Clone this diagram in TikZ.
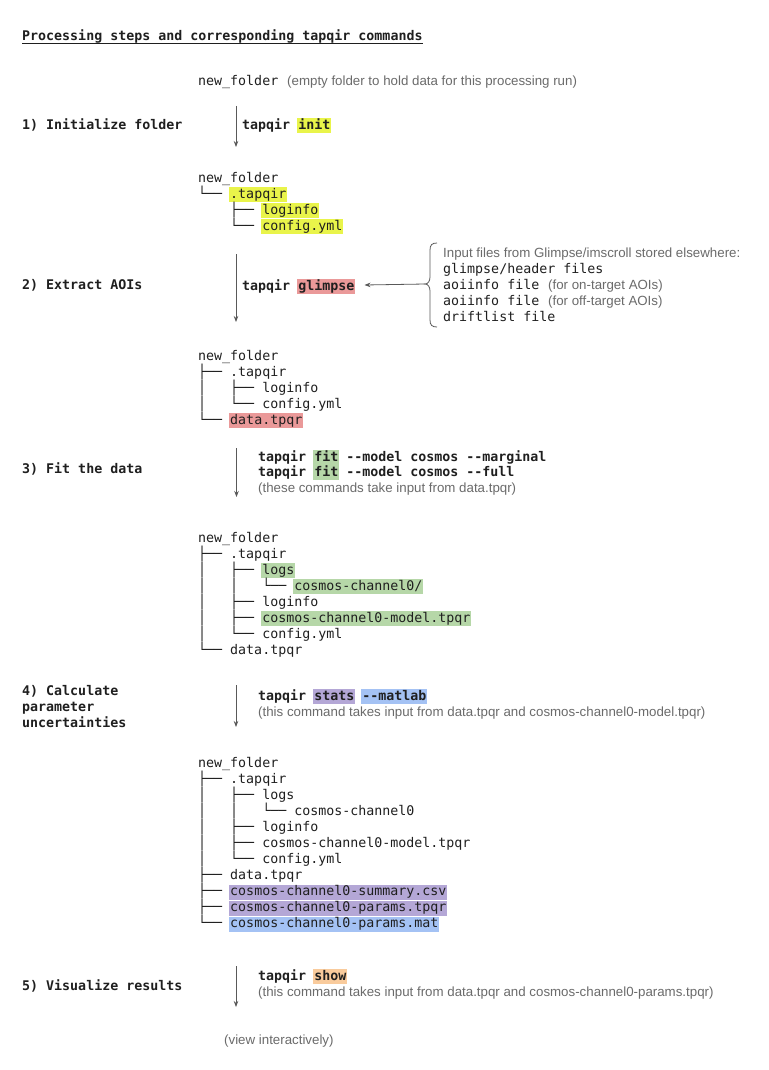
\documentclass[tikz,border=0pt]{standalone}
\usepackage{fontspec}
\setmainfont{Liberation Sans}
\setmonofont{DejaVu Sans Mono}
\usetikzlibrary{arrows.meta}

\definecolor{ink}{HTML}{1F1F1F}
\definecolor{notegray}{HTML}{6B6B6B}
\definecolor{conn}{HTML}{595959}
\definecolor{hlyellow}{HTML}{E9F44A}
\definecolor{hlred}{HTML}{EA9999}
\definecolor{hlgreen}{HTML}{B6D7A8}
\definecolor{hlpurple}{HTML}{B4A7D6}
\definecolor{hlblue}{HTML}{A4C2F4}
\definecolor{hlorange}{HTML}{F9CB9C}

% highlighted word, about one line tall
\newcommand\hlbox[2]{\kern-1pt\relax{\setlength{\fboxsep}{0pt}\colorbox{#1}{\rule[-4pt]{0pt}{15pt}\kern1pt\relax#2\kern1pt\relax}}\kern-1pt\relax}
% tree drawing prefixes
\newcommand\trT{├──\ }
\newcommand\trL{└──\ }
\newcommand\trV{│\ \ \ }
\newcommand\trS{\ \ \ \ }

\tikzset{
  code/.style={anchor=west, inner sep=0pt, text=ink,
    font=\ttfamily\fontsize{13.3}{16}\selectfont, text height=13pt, text depth=3pt},
  cmd/.style={code, font=\ttfamily\bfseries\fontsize{13.3}{16}\selectfont},
  note/.style={anchor=west, inner sep=0pt, text=notegray,
    font=\fontsize{13.3}{16}\selectfont, text height=13pt, text depth=3pt},
  flow/.style={draw=conn, line width=0.8pt, -{Stealth[length=6pt,width=4.5pt]}},
}

\begin{document}
\begin{tikzpicture}[x=1pt,y=-1pt]
\useasboundingbox[fill=white] (0,0) rectangle (768,1070);

% title
\node[cmd] (title) at (22,36) {Processing steps and corresponding tapqir commands};
\draw[ink, line width=0.9pt] ([yshift=-2.5pt]title.base west) -- ([yshift=-2.5pt]title.base east);

% starting folder
\node[code] (r0) at (198,81) {new\_folder};
\node[note] (r0n) at (287,81) {(empty folder to hold data for this processing run)};

% step 1
\node[cmd] (s1) at (22,124) {1) Initialize folder};
\node[cmd] (c1) at (242,124) {tapqir \hlbox{hlyellow}{init}};
\coordinate (a1s) at (236,106);
\coordinate (a1e) at (236,147);
\draw[flow] (a1s) -- (a1e);

\node[code] (t1a) at (198,177) {new\_folder};
\node[code] (t1b) at (198,193) {\trL\hlbox{hlyellow}{.tapqir}};
\node[code] (t1c) at (198,209) {\trS\trT\hlbox{hlyellow}{loginfo}};
\node[code] (t1d) at (198,225) {\trS\trL\hlbox{hlyellow}{config.yml}};

% step 2
\node[cmd] (s2) at (22,284) {2) Extract AOIs};
\node[cmd] (c2) at (242,285) {tapqir \hlbox{hlred}{glimpse}};
\coordinate (a2s) at (236,254);
\coordinate (a2e) at (236,322);
\draw[flow] (a2s) -- (a2e);

\node[note] (in0) at (443,252) {Input files from Glimpse/imscroll stored elsewhere:};
\node[code] (in1) at (443,268) {glimpse/header files};
\node[code] (in2) at (443,284) {aoiinfo file};
\node[note] (in2n) at (548,284) {(for on-target AOIs)};
\node[code] (in3) at (443,300) {aoiinfo file};
\node[note] (in3n) at (548,300) {(for off-target AOIs)};
\node[code] (in4) at (443,316) {driftlist file};

% brace gathering the input files
\coordinate (brtip) at (425,284);
\draw[conn, line width=0.8pt] (437,243) .. controls (432,243) and (430,245) .. (430,250)
  -- (430,277) .. controls (430,281) and (428,284) .. (brtip)
  .. controls (428,284) and (430,287) .. (430,291)
  -- (430,320) .. controls (430,325) and (432,327) .. (437,327);
\draw[flow] (brtip) -- ([xshift=10pt]c2.east);

\node[code] (t2a) at (198,355) {new\_folder};
\node[code] (t2b) at (198,371) {\trT.tapqir};
\node[code] (t2c) at (198,387) {\trV\trT loginfo};
\node[code] (t2d) at (198,403) {\trV\trL config.yml};
\node[code] (t2e) at (198,419) {\trL\hlbox{hlred}{data.tpqr}};

% step 3
\node[cmd] (s3) at (22,468) {3) Fit the data};
\node[cmd] (c3a) at (258,456) {tapqir \hlbox{hlgreen}{fit} -{}-model cosmos -{}-marginal};
\node[cmd] (c3b) at (258,471) {tapqir \hlbox{hlgreen}{fit} -{}-model cosmos -{}-full};
\node[note] (c3n) at (258,487) {(these commands take input from data.tpqr)};
\coordinate (a3s) at (236.5,448);
\coordinate (a3e) at (236.5,497);
\draw[flow] (a3s) -- (a3e);

\node[code] (t3a) at (198,537) {new\_folder};
\node[code] (t3b) at (198,553) {\trT.tapqir};
\node[code] (t3c) at (198,569) {\trV\trT\hlbox{hlgreen}{logs}};
\node[code] (t3d) at (198,585) {\trV\trV\trL\hlbox{hlgreen}{cosmos-channel0/}};
\node[code] (t3e) at (198,601) {\trV\trT loginfo};
\node[code] (t3f) at (198,617) {\trV\trT\hlbox{hlgreen}{cosmos-channel0-model.tpqr}};
\node[code] (t3g) at (198,633) {\trV\trL config.yml};
\node[code] (t3h) at (198,649) {\trL data.tpqr};

% step 4
\node[cmd] (s4a) at (22,690) {4) Calculate};
\node[cmd] (s4b) at (22,706) {parameter};
\node[cmd] (s4c) at (22,722) {uncertainties};
\node[cmd] (c4) at (258,695) {tapqir \hlbox{hlpurple}{stats} \hlbox{hlblue}{-{}-matlab}};
\node[note] (c4n) at (258,711.5) {(this command takes input from data.tpqr and cosmos-channel0-model.tpqr)};
\coordinate (a4s) at (236,685);
\coordinate (a4e) at (236,727);
\draw[flow] (a4s) -- (a4e);

\node[code] (t4a) at (198,762.5) {new\_folder};
\node[code] (t4b) at (198,778.5) {\trT.tapqir};
\node[code] (t4c) at (198,794.5) {\trV\trT logs};
\node[code] (t4d) at (198,810.5) {\trV\trV\trL cosmos-channel0};
\node[code] (t4e) at (198,826.5) {\trV\trT loginfo};
\node[code] (t4f) at (198,842.5) {\trV\trT cosmos-channel0-model.tpqr};
\node[code] (t4g) at (198,858.5) {\trV\trL config.yml};
\node[code] (t4h) at (198,874.5) {\trT data.tpqr};
\node[code] (t4i) at (198,890.5) {\trT\hlbox{hlpurple}{cosmos-channel0-summary.csv}};
\node[code] (t4j) at (198,906.5) {\trT\hlbox{hlpurple}{cosmos-channel0-params.tpqr}};
\node[code] (t4k) at (198,922.5) {\trL\hlbox{hlblue}{cosmos-channel0-params.mat}};

% step 5
\node[cmd] (s5) at (22,985) {5) Visualize results};
\node[cmd] (c5) at (258,975) {tapqir \hlbox{hlorange}{show}};
\node[note] (c5n) at (258,991.5) {(this command takes input from data.tpqr and cosmos-channel0-params.tpqr)};
\coordinate (a5s) at (236,966);
\coordinate (a5e) at (236,1007);
\draw[flow] (a5s) -- (a5e);

\node[note] (view) at (224,1039) {(view interactively)};
\end{tikzpicture}
\end{document}
